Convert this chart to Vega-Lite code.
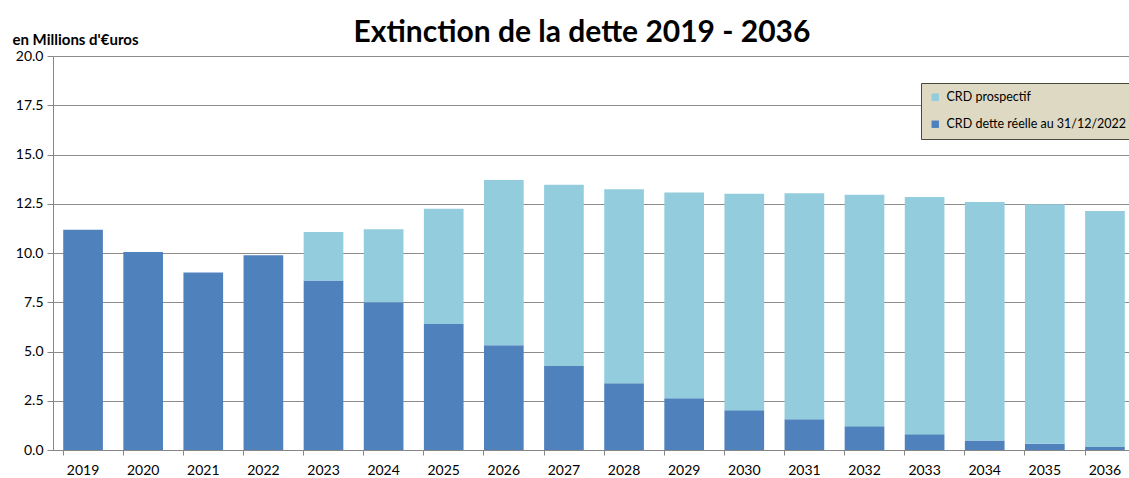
{
  "$schema": "https://vega.github.io/schema/vega-lite/v6.json",
  "autosize": {"type": "none"},
  "width": 1082,
  "height": 394,
  "padding": {"left": 53, "top": 56, "right": 0, "bottom": 28},
  "background": "white",
  "title": {
    "text": "Extinction de la dette 2019 - 2036",
    "font": "Lato",
    "fontSize": 30,
    "fontWeight": "bold",
    "color": "#000000",
    "anchor": "middle",
    "dx": -12,
    "dy": 21,
    "offset": 5
  },
  "data": {
    "values": [
      {"annee": "2019", "serie": "CRD dette réelle au 31/12/2022", "ordre": 1, "valeur": 11.18},
      {"annee": "2020", "serie": "CRD dette réelle au 31/12/2022", "ordre": 1, "valeur": 10.05},
      {"annee": "2021", "serie": "CRD dette réelle au 31/12/2022", "ordre": 1, "valeur": 9.01},
      {"annee": "2022", "serie": "CRD dette réelle au 31/12/2022", "ordre": 1, "valeur": 9.88},
      {"annee": "2023", "serie": "CRD dette réelle au 31/12/2022", "ordre": 1, "valeur": 8.61},
      {"annee": "2024", "serie": "CRD dette réelle au 31/12/2022", "ordre": 1, "valeur": 7.5},
      {"annee": "2025", "serie": "CRD dette réelle au 31/12/2022", "ordre": 1, "valeur": 6.4},
      {"annee": "2026", "serie": "CRD dette réelle au 31/12/2022", "ordre": 1, "valeur": 5.32},
      {"annee": "2027", "serie": "CRD dette réelle au 31/12/2022", "ordre": 1, "valeur": 4.26},
      {"annee": "2028", "serie": "CRD dette réelle au 31/12/2022", "ordre": 1, "valeur": 3.39},
      {"annee": "2029", "serie": "CRD dette réelle au 31/12/2022", "ordre": 1, "valeur": 2.63},
      {"annee": "2030", "serie": "CRD dette réelle au 31/12/2022", "ordre": 1, "valeur": 2.02},
      {"annee": "2031", "serie": "CRD dette réelle au 31/12/2022", "ordre": 1, "valeur": 1.56},
      {"annee": "2032", "serie": "CRD dette réelle au 31/12/2022", "ordre": 1, "valeur": 1.2},
      {"annee": "2033", "serie": "CRD dette réelle au 31/12/2022", "ordre": 1, "valeur": 0.8},
      {"annee": "2034", "serie": "CRD dette réelle au 31/12/2022", "ordre": 1, "valeur": 0.48},
      {"annee": "2035", "serie": "CRD dette réelle au 31/12/2022", "ordre": 1, "valeur": 0.32},
      {"annee": "2036", "serie": "CRD dette réelle au 31/12/2022", "ordre": 1, "valeur": 0.15},
      {"annee": "2023", "serie": "CRD prospectif", "ordre": 2, "valeur": 2.45},
      {"annee": "2024", "serie": "CRD prospectif", "ordre": 2, "valeur": 3.7},
      {"annee": "2025", "serie": "CRD prospectif", "ordre": 2, "valeur": 5.85},
      {"annee": "2026", "serie": "CRD prospectif", "ordre": 2, "valeur": 8.38},
      {"annee": "2027", "serie": "CRD prospectif", "ordre": 2, "valeur": 9.2},
      {"annee": "2028", "serie": "CRD prospectif", "ordre": 2, "valeur": 9.85},
      {"annee": "2029", "serie": "CRD prospectif", "ordre": 2, "valeur": 10.44},
      {"annee": "2030", "serie": "CRD prospectif", "ordre": 2, "valeur": 10.99},
      {"annee": "2031", "serie": "CRD prospectif", "ordre": 2, "valeur": 11.47},
      {"annee": "2032", "serie": "CRD prospectif", "ordre": 2, "valeur": 11.76},
      {"annee": "2033", "serie": "CRD prospectif", "ordre": 2, "valeur": 12.04},
      {"annee": "2034", "serie": "CRD prospectif", "ordre": 2, "valeur": 12.11},
      {"annee": "2035", "serie": "CRD prospectif", "ordre": 2, "valeur": 12.15},
      {"annee": "2036", "serie": "CRD prospectif", "ordre": 2, "valeur": 11.98}
    ]
  },
  "mark": {"type": "bar"},
  "encoding": {
    "x": {
      "field": "annee",
      "type": "ordinal",
      "scale": {"paddingInner": 0.34, "paddingOuter": 0.17},
      "axis": {
        "title": null,
        "labelAngle": 0,
        "labelFont": "Lato",
        "labelFontSize": 14,
        "labelColor": "#000000",
        "labelPadding": 8,
        "tickSize": 5,
        "tickColor": "#868686",
        "domainColor": "#868686",
        "bandPosition": 0,
        "grid": false
      }
    },
    "y": {
      "field": "valeur",
      "type": "quantitative",
      "stack": "zero",
      "scale": {"domain": [0, 20], "nice": false},
      "axis": {
        "title": "en Millions d'€uros",
        "titleFont": "Lato",
        "titleFontSize": 15,
        "titleFontWeight": "bold",
        "titleColor": "#000000",
        "titleAngle": 0,
        "titleAlign": "left",
        "titleBaseline": "alphabetic",
        "titleX": -41,
        "titleY": -12,
        "values": [0, 2.5, 5, 7.5, 10, 12.5, 15, 17.5, 20],
        "format": ".1f",
        "labelFont": "Lato",
        "labelFontSize": 14,
        "labelColor": "#000000",
        "labelPadding": 4,
        "tickSize": 6,
        "tickColor": "#868686",
        "domainColor": "#868686",
        "grid": true,
        "gridColor": "#8c8c8c",
        "gridWidth": 1
      }
    },
    "color": {
      "field": "serie",
      "type": "nominal",
      "scale": {
        "domain": ["CRD prospectif", "CRD dette réelle au 31/12/2022"],
        "range": ["#93CDDD", "#4F81BD"]
      },
      "legend": {
        "title": null,
        "orient": "none",
        "legendX": 868,
        "legendY": 27,
        "fillColor": "#DDD9C3",
        "strokeColor": "#4a4a3a",
        "padding": 8,
        "rowPadding": 14,
        "symbolType": "square",
        "symbolSize": 55,
        "symbolStrokeWidth": 0,
        "labelFont": "Lato",
        "labelFontSize": 12.5,
        "labelColor": "#000000",
        "labelOffset": 5,
        "labelLimit": 300
      }
    },
    "order": {"field": "ordre", "type": "quantitative"}
  },
  "config": {
    "view": {"stroke": null}
  }
}
